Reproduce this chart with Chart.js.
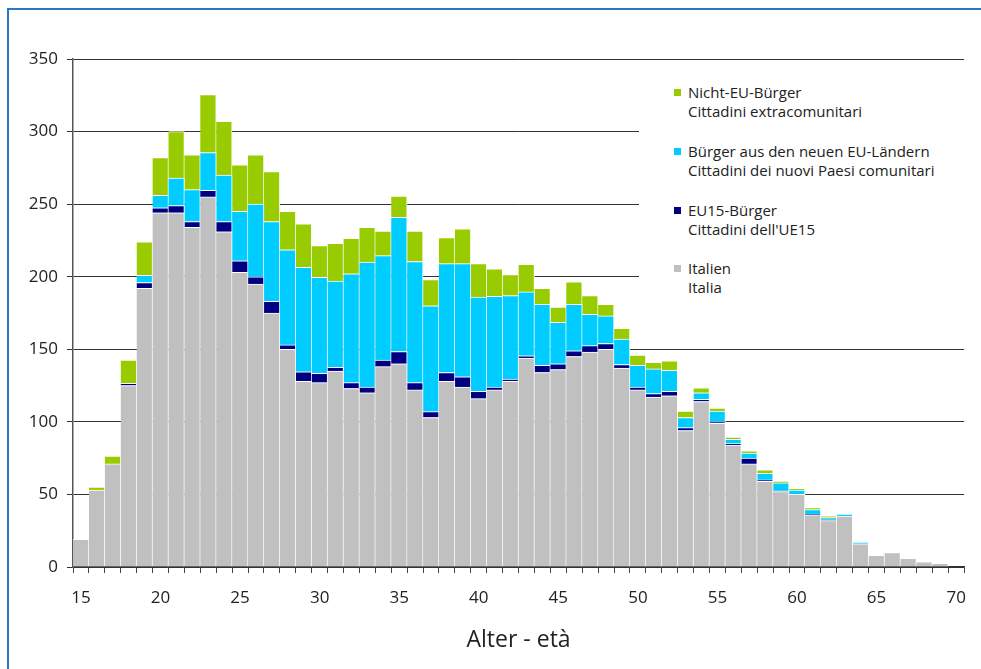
<!DOCTYPE html>
<html>
<head>
<meta charset="utf-8">
<script src="https://cdn.jsdelivr.net/npm/chart.js@4.4.1/dist/chart.umd.min.js"></script>
<style>
  html, body { margin: 0; padding: 0; background: #fff; overflow: hidden; }
  #wrap { position: relative; width: 981px; height: 669px; }
  #frame { position: absolute; left: 7px; top: 8px; width: 2000px; height: 2000px; border: 2px solid #2a78c2; box-sizing: border-box; }
  canvas { position: absolute; left: 0; top: 0; }
  #legend { position: absolute; left: 639px; top: 66px; width: 328px; height: 278px; background: #fff;
            font-family: "Open Sans", sans-serif; font-size: 15px; color: #222; }
  .item { position: absolute; left: 49px; line-height: 19px; }
  .box { position: absolute; left: -14px; top: 6px; width: 7px; height: 7px; }
</style>
</head>
<body>
<div id="wrap">
  <div id="frame"></div>
  <canvas id="chart" width="981" height="669"></canvas>
  <div id="legend"></div>
</div>
<script>
var ages = [15, 16, 17, 18, 19, 20, 21, 22, 23, 24, 25, 26, 27, 28, 29, 30, 31, 32, 33, 34,
            35, 36, 37, 38, 39, 40, 41, 42, 43, 44, 45, 46, 47, 48, 49, 50, 51, 52, 53, 54,
            55, 56, 57, 58, 59, 60, 61, 62, 63, 64, 65, 66, 67, 68, 69, 70];

var italia = [19, 53, 71, 125, 192, 244, 244, 234, 255, 231, 203, 195, 175, 150, 128, 127, 135, 123, 120, 138,
              140, 122, 103, 128, 124, 116, 122, 128, 144, 134, 136, 145, 148, 150, 137, 122, 117, 118, 94, 114,
              99, 84, 71, 59, 52, 50, 36, 32, 35, 16, 8, 10, 6, 3.5, 2.5, 0];

var eu15 = [0, 0, 0, 1.5, 4, 3.5, 5, 4, 4.5, 7, 8, 5, 8, 3, 6.5, 6.5, 2.5, 4, 4, 4.5,
            8.5, 5, 4, 6, 7, 5, 2, 1.5, 1.5, 5, 4, 4, 4.5, 4, 2.5, 2, 2.5, 3, 2, 1.5,
            1, 1, 4, 1, 0.5, 0, 0.5, 0.5, 0, 0, 0, 0, 0, 0, 0, 0];

var neueEU = [0, 0, 0, 0, 5, 8.5, 19, 22, 26, 32, 34, 50, 55, 65.5, 72, 66, 59.5, 75, 86, 72,
              92.5, 83.5, 73, 75, 78, 65, 62.5, 57.5, 44, 42, 28.5, 32, 21.5, 19, 17.5, 15, 17, 14.5, 7, 4.5,
              7.5, 3, 3.5, 4.5, 5.5, 3, 3, 1.5, 1.5, 1, 0, 0, 0, 0, 0, 0];

var nichtEU = [0, 2, 5.5, 16, 23, 26, 32, 24, 40, 37, 32, 34, 34.5, 26.5, 30, 22, 26, 24.5, 24, 17,
               14.5, 21, 18, 18, 24, 23, 19, 14.5, 19, 11, 10.5, 15.5, 13, 8, 7.5, 7, 4.5, 6.5, 4.5, 3.5,
               2, 1.5, 1.5, 2.5, 1, 1, 1.5, 1, 0, 0, 0, 0, 0, 0, 0, 0];

var seriesLabels = [
  ['Italien', 'Italia'],
  ['EU15-Bürger', "Cittadini dell'UE15"],
  ['Bürger aus den neuen EU-Ländern', 'Cittadini dei nuovi Paesi comunitari'],
  ['Nicht-EU-Bürger', 'Cittadini extracomunitari']
];
var seriesColors = ['#c0c0c0', '#000080', '#00ccff', '#99cc00'];

var font = '"Open Sans", sans-serif';

function makeDataset(i, data) {
  return {
    label: seriesLabels[i].join(' / '),
    data: data,
    backgroundColor: seriesColors[i],
    borderColor: '#ffffff',
    borderWidth: { top: 1, right: 1, left: 0, bottom: 0 },
    borderSkipped: 'start',
    barPercentage: 1,
    categoryPercentage: 1
  };
}

var ctx = document.getElementById('chart').getContext('2d');
new Chart(ctx, {
  type: 'bar',
  data: {
    labels: ages,
    datasets: [
      makeDataset(0, italia),
      makeDataset(1, eu15),
      makeDataset(2, neueEU),
      makeDataset(3, nichtEU)
    ]
  },
  options: {
    responsive: false,
    animation: false,
    devicePixelRatio: 1,
    layout: { padding: { left: 0, right: 14, top: 59, bottom: 0 } },
    plugins: { legend: { display: false }, tooltip: { enabled: false } },
    scales: {
      x: {
        stacked: true,
        offset: true,
        grid: { offset: true, drawOnChartArea: false, drawTicks: true, tickLength: 6, color: '#444' },
        border: { color: '#333', width: 1.5 },
        ticks: {
          autoSkip: false, maxRotation: 0, minRotation: 0, padding: 15,
          color: '#222', font: { family: font, size: 17 },
          callback: function (v, i) { return ages[i] % 5 === 0 ? ages[i] : ''; }
        },
        title: { display: true, text: 'Alter - età', color: '#222', font: { family: font, size: 23 }, padding: { top: 0, bottom: 15 } },
        afterFit: function (s) { s.height = 102; }
      },
      y: {
        stacked: true,
        min: 0, max: 350,
        grid: { color: '#333', lineWidth: 1, tickLength: 6 },
        border: { color: '#555', width: 1.5 },
        ticks: { stepSize: 50, padding: 9, color: '#222', font: { family: font, size: 17 } },
        afterFit: function (s) { s.width = 73; }
      }
    }
  }
});

// legend, top item first like the original
var legend = document.getElementById('legend');
var tops = [17, 76, 135, 193];
[3, 2, 1, 0].forEach(function (si, k) {
  var d = document.createElement('div');
  d.className = 'item';
  d.style.top = tops[k] + 'px';
  d.innerHTML = '<span class="box" style="background:' + seriesColors[si] + '"></span>' +
    seriesLabels[si][0] + '<br>' + seriesLabels[si][1];
  legend.appendChild(d);
});
</script>
</body>
</html>
